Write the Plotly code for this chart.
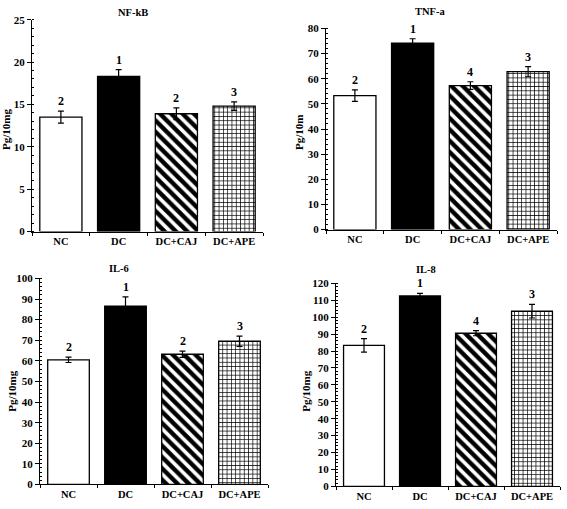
import plotly.graph_objects as go

groups = ["NC", "DC", "DC+CAJ", "DC+APE"]

nfkb_vals = [13.5, 18.3, 13.9, 14.8]
nfkb_err = [0.7, 0.8, 0.7, 0.5]
nfkb_lbl = ["2", "1", "2", "3"]

tnfa_vals = [53.3, 74.2, 57.3, 62.8]
tnfa_err = [2.3, 1.7, 1.5, 2.0]
tnfa_lbl = ["2", "1", "4", "3"]

il6_vals = [60.5, 86.5, 63.2, 69.5]
il6_err = [1.3, 4.5, 1.5, 2.5]
il6_lbl = ["2", "1", "2", "3"]

il8_vals = [83.3, 112.5, 90.5, 103.5]
il8_err = [4.0, 1.5, 1.5, 4.0]
il8_lbl = ["2", "1", "4", "3"]

panels = [
    dict(title="NF-kB", ytitle="Pg/10mg", vals=nfkb_vals, err=nfkb_err, lbl=nfkb_lbl,
         xd=[32/567, 263/567], yd=[(509-231)/509, (509-14)/509], yr=[0, 25], dt=5, mdt=1,
         tx=133, ty=7, ytx=6, yty=127),
    dict(title="TNF-a", ytitle="Pg/10m", vals=tnfa_vals, err=tnfa_err, lbl=tnfa_lbl,
         xd=[326/567, 557/567], yd=[(509-229)/509, (509-23)/509], yr=[0, 80], dt=10, mdt=2,
         tx=430, ty=6, ytx=299, yty=130),
    dict(title="IL-6", ytitle="Pg/10mg", vals=il6_vals, err=il6_err, lbl=il6_lbl,
         xd=[40/567, 268/567], yd=[(509-490)/509, (509-279)/509], yr=[0, 100], dt=10, mdt=2,
         tx=119, ty=269, ytx=12, yty=395),
    dict(title="IL-8", ytitle="Pg/10mg", vals=il8_vals, err=il8_err, lbl=il8_lbl,
         xd=[336/567, 560/567], yd=[(509-492)/509, (509-284)/509], yr=[0, 120], dt=10, mdt=2,
         tx=426, ty=270, ytx=306, yty=395),
]

FONT = "Liberation Serif"
fig = go.Figure()

bar_colors = ["white", "black", "white", "white"]
pat_shapes = ["", "", "\\", "+"]
pat_sizes = [6, 6, 8, 4.3]
pat_solid = [0.3, 0.3, 0.55, 0.3]

for i, p in enumerate(panels):
    n = "" if i == 0 else str(i + 1)
    xa, ya = "x" + n, "y" + n
    for j, g in enumerate(groups):
        marker = dict(color=bar_colors[j], line=dict(color="black", width=1.3))
        if pat_shapes[j]:
            marker["pattern"] = dict(shape=pat_shapes[j], size=pat_sizes[j],
                                     solidity=pat_solid[j], fgcolor="black",
                                     bgcolor="white", fillmode="overlay", fgopacity=1)
        fig.add_trace(go.Bar(
            x=[g], y=[p["vals"][j]], xaxis=xa, yaxis=ya, marker=marker,
            error_y=dict(type="data", array=[p["err"][j]], visible=True, color="black",
                         thickness=1.2, width=3),
            width=0.73, showlegend=False, hoverinfo="skip",
        ))
    for g, v, e, t in zip(groups, p["vals"], p["err"], p["lbl"]):
        fig.add_annotation(x=g, y=v + e, xref=xa, yref=ya, text="<b>%s</b>" % t,
                           showarrow=False, yanchor="bottom", yshift=1,
                           font=dict(family=FONT, size=12, color="black"))
    fig.add_annotation(x=p["tx"]/567, y=1 - p["ty"]/509, xref="paper", yref="paper",
                       text="<b>%s</b>" % p["title"], showarrow=False,
                       xanchor="center", yanchor="middle",
                       font=dict(family=FONT, size=10.5, color="black"))
    fig.add_annotation(x=p["ytx"]/567, y=1 - p["yty"]/509, xref="paper", yref="paper",
                       text="<b>%s</b>" % p["ytitle"], showarrow=False, textangle=-90,
                       xanchor="center", yanchor="middle",
                       font=dict(family=FONT, size=11, color="black"))
    fig.layout["xaxis" + n] = dict(
        domain=p["xd"], anchor=ya, range=[-0.5, 3.5], showline=True, linecolor="black",
        linewidth=1, ticks="outside", tickson="boundaries", ticklen=3, tickcolor="black",
        showgrid=False, zeroline=False, fixedrange=True,
        tickfont=dict(family=FONT, size=10.5, color="black"))
    fig.layout["yaxis" + n] = dict(
        domain=p["yd"], anchor=xa, range=p["yr"], dtick=p["dt"], showline=True,
        linecolor="black", linewidth=1, ticks="outside", ticklen=4, tickcolor="black",
        showgrid=False, zeroline=False, fixedrange=True,
        minor=dict(dtick=p["mdt"], ticks="inside", ticklen=2, tickcolor="black", showgrid=False),
        tickfont=dict(family=FONT, size=11, color="black"))

fig.update_xaxes(tickprefix="<b>", ticksuffix="</b>")
fig.update_yaxes(tickprefix="<b>", ticksuffix="</b>")
fig.update_layout(width=567, height=509, margin=dict(l=0, r=0, t=0, b=0),
                  plot_bgcolor="white", paper_bgcolor="white", barmode="overlay")
fig.write_html("out.html", config={"displayModeBar": False},
               post_script="document.body.style.margin='0';document.body.style.overflow='hidden';")
